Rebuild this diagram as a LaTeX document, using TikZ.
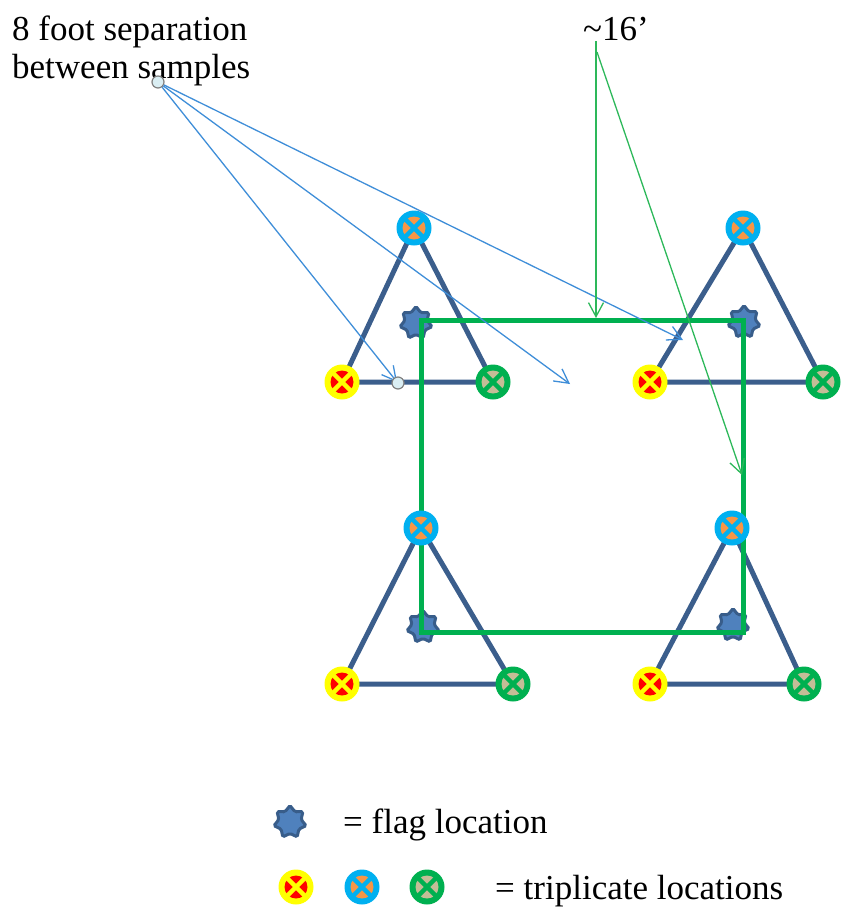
\documentclass[tikz,border=0pt]{standalone}
\usepackage{fontspec}
\setmainfont{Liberation Serif}
\usetikzlibrary{arrows.meta,shapes.geometric}
\definecolor{triline}{HTML}{3B5E8C}
\definecolor{flagfill}{HTML}{4F81BD}
\definecolor{flagline}{HTML}{385D8A}
\definecolor{sqgreen}{HTML}{00B050}
\definecolor{ptrblue}{HTML}{3F8ED8}
\definecolor{ptrgreen}{HTML}{2DB85A}
\definecolor{yelo}{HTML}{FFFF00}
\definecolor{redi}{HTML}{FF0000}
\definecolor{blueo}{HTML}{00B0F0}
\definecolor{orangei}{HTML}{F79646}
\definecolor{greeno}{HTML}{00B050}
\definecolor{tani}{HTML}{C4BD97}
\definecolor{dotfill}{HTML}{DAEEF3}
\tikzset{
  sampdisc/.style={circle, minimum size=35pt, inner sep=0pt},
  flag/.style={star, star points=7, star point ratio=1.45, minimum size=33pt,
    inner sep=0pt, fill=flagfill, draw=flagline, line width=3pt,
    rounded corners=1.5pt},
  tri/.style={draw=triline, line width=5pt},
  sq/.style={draw=sqgreen, line width=5pt},
  barrow/.style={draw=ptrblue, line width=1.3pt,
    -{Straight Barb[length=14pt, width=15pt, line width=1.3pt]}},
  garrow/.style={draw=ptrgreen, line width=1.3pt,
    -{Straight Barb[length=14pt, width=15pt, line width=1.3pt]}},
  dot/.style={circle, minimum size=12pt, inner sep=0pt, fill=dotfill,
    draw=gray, line width=1.2pt},
  lbl/.style={font=\fontsize{35}{40}\selectfont, inner sep=0pt, anchor=base west},
}
% sample symbol: ring colour with an inner disc crossed by an X
% #1 name, #2 position, #3 ring colour, #4 disc colour
\newcommand{\sampmark}[4]{%
  \node[sampdisc, fill=#3] (#1) at (#2) {};
  \fill[#4] (#1.center) circle (11.5pt);
  \draw[#3, line width=4.5pt] ([shift={(-9,-9)}]#1.center) -- ([shift={(9,9)}]#1.center);
  \draw[#3, line width=4.5pt] ([shift={(-9,9)}]#1.center) -- ([shift={(9,-9)}]#1.center);
}
\begin{document}
\begin{tikzpicture}[x=1pt,y=-1pt]
\useasboundingbox (0,0) rectangle (841,914);

% sample positions of the four triangles
\coordinate (a1) at (414,228); \coordinate (b1) at (342,382); \coordinate (c1) at (493,382);
\coordinate (a2) at (743,228); \coordinate (b2) at (650,382); \coordinate (c2) at (823,382);
\coordinate (a3) at (421,528); \coordinate (b3) at (342,684); \coordinate (c3) at (513,684);
\coordinate (a4) at (732,528); \coordinate (b4) at (650,684); \coordinate (c4) at (804,684);

% triangle sides
\foreach \i in {1,2,3,4} {
  \draw[tri] (a\i) -- (b\i) -- (c\i) -- cycle;
}

% flags
\node[flag] (f1) at (416,323) {};
\node[flag] (f2) at (744,322) {};
\node[flag] (f3) at (423,627) {};
\node[flag] (f4) at (733,625) {};

% the 16 ft square
\draw[sq] (421,320) rectangle (743,632);

% sample symbols
\foreach \i in {1,2,3,4} {
  \sampmark{sa\i}{a\i}{blueo}{orangei}
  \sampmark{sb\i}{b\i}{yelo}{redi}
  \sampmark{sc\i}{c\i}{greeno}{tani}
}

% labels
\node[lbl] (sep1) at (12,40) {8 foot separation};
\node[lbl] (sep2) at (12,78) {between samples};
\node[lbl] (len) at (583,40) {\textasciitilde16’};

% pointers for the 8 ft label
\node[dot] (src) at (158,82) {};
\coordinate (e1) at (397,382);
\coordinate (e2) at (570,384);
\coordinate (e3) at (683,340);
\draw[barrow] (src) -- (e1);
\draw[barrow] (src) -- (e2);
\draw[barrow] (src) -- (e3);
\node[dot] (enddot) at (398,383) {};

% pointers for the 16 ft label
\coordinate (g1) at (596,41);
\coordinate (g2) at (597,52);
\coordinate (h1) at (596,318);
\coordinate (h2) at (742,475);
\draw[garrow] (g1) -- (h1);
\draw[garrow] (g2) -- (h2);

% legend
\node[flag] (lf) at (290,822) {};
\node[lbl] (lft) at (343,833) {= flag location};
\sampmark{ly}{296,887}{yelo}{redi}
\sampmark{lb}{362,887}{blueo}{orangei}
\sampmark{lg}{427,887}{greeno}{tani}
\node[lbl] (ltt) at (495,899) {= triplicate locations};
\end{tikzpicture}
\end{document}
